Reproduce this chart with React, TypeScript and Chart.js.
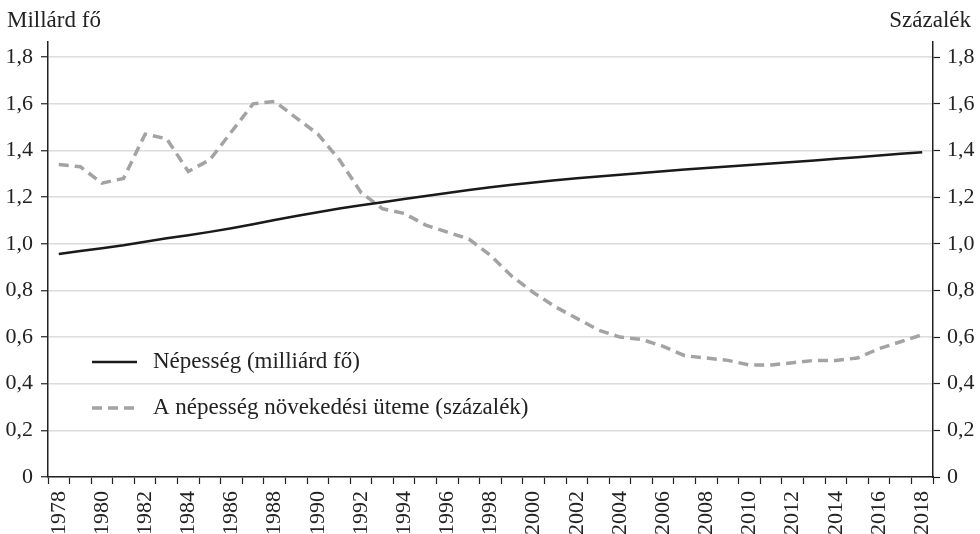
import { useEffect, useRef } from 'react';
import { Chart, registerables } from 'chart.js';

Chart.register(...registerables);

const years = [
  '1978', '1979', '1980', '1981', '1982', '1983', '1984', '1985', '1986', '1987',
  '1988', '1989', '1990', '1991', '1992', '1993', '1994', '1995', '1996', '1997',
  '1998', '1999', '2000', '2001', '2002', '2003', '2004', '2005', '2006', '2007',
  '2008', '2009', '2010', '2011', '2012', '2013', '2014', '2015', '2016', '2017', '2018',
];

const shownYearLabels = [
  '1978', '1980', '1982', '1984', '1986', '1988', '1990', '1992', '1994', '1996', '1998',
  '2000', '2002', '2004', '2006', '2008', '2010', '2012', '2014', '2016', '2018',
];

// Népesség (milliárd fő)
const population = [
  0.9562, 0.969, 0.9812, 0.9939, 1.0087, 1.0233, 1.0368, 1.051, 1.0668, 1.084,
  1.1016, 1.1187, 1.1352, 1.1508, 1.165, 1.1784, 1.1918, 1.2049, 1.2176, 1.2301,
  1.2419, 1.2527, 1.2626, 1.2719, 1.2804, 1.2884, 1.2961, 1.3037, 1.311, 1.3179,
  1.3247, 1.3313, 1.3377, 1.3441, 1.3506, 1.3573, 1.3641, 1.3711, 1.3786, 1.3864, 1.3927,
];

// A népesség növekedési üteme (százalék)
const growthRate = [
  1.34, 1.33, 1.26, 1.28, 1.47, 1.45, 1.31, 1.36, 1.48, 1.6,
  1.61, 1.54, 1.47, 1.36, 1.22, 1.15, 1.13, 1.08, 1.05, 1.02,
  0.95, 0.86, 0.79, 0.73, 0.68, 0.63, 0.6, 0.59, 0.56, 0.52,
  0.51, 0.5, 0.48, 0.48, 0.49, 0.5, 0.5, 0.51, 0.55, 0.58, 0.61,
];

const leftAxisTitle = 'Millárd fő';
const rightAxisTitle = 'Százalék';
const seriesNames = ['Népesség (milliárd fő)', 'A népesség növekedési üteme (százalék)'];

const FONT = "'Liberation Serif', 'DejaVu Serif', serif";
const TEXT = '#222222';

const fmt = (v: number) => (v === 0 ? '0' : v.toFixed(1).replace('.', ','));

const overlayPlugin = {
  id: 'overlay',
  afterDraw(chart: any) {
    const ctx = chart.ctx as CanvasRenderingContext2D;
    ctx.save();
    ctx.font = `23px ${FONT}`;
    ctx.fillStyle = TEXT;
    ctx.textBaseline = 'alphabetic';
    ctx.textAlign = 'left';
    ctx.fillText(leftAxisTitle, 7, 27);
    ctx.textAlign = 'right';
    ctx.fillText(rightAxisTitle, 971, 27);

    // legend
    const area = chart.chartArea;
    const lx = area.left + 44;
    const rows = [362, 408];
    chart.data.datasets.forEach((ds: any, i: number) => {
      const y = rows[i];
      ctx.beginPath();
      ctx.strokeStyle = ds.borderColor;
      ctx.lineWidth = ds.borderWidth;
      ctx.setLineDash(ds.borderDash || []);
      ctx.moveTo(lx, y);
      ctx.lineTo(lx + 45, y);
      ctx.stroke();
      ctx.setLineDash([]);
      ctx.textAlign = 'left';
      ctx.textBaseline = 'middle';
      ctx.fillStyle = TEXT;
      ctx.font = `23px ${FONT}`;
      ctx.fillText(ds.label, lx + 61, y);
    });
    ctx.restore();
  },
};

export default function App() {
  const ref = useRef<HTMLCanvasElement | null>(null);

  useEffect(() => {
    if (!ref.current) return;
    Chart.defaults.font.family = FONT;
    const chart = new Chart(ref.current, {
      type: 'line',
      data: {
        labels: years,
        datasets: [
          {
            label: seriesNames[0],
            data: population,
            yAxisID: 'y',
            borderColor: '#1a1a1a',
            borderWidth: 2.5,
            pointRadius: 0,
            tension: 0,
            fill: false,
          },
          {
            label: seriesNames[1],
            data: growthRate,
            yAxisID: 'y1',
            borderColor: '#a3a3a3',
            borderWidth: 3.5,
            borderDash: [10, 6],
            pointRadius: 0,
            tension: 0,
            fill: false,
          },
        ],
      },
      options: {
        responsive: false,
        animation: false,
        layout: { padding: { top: 42, left: 0, right: 0, bottom: 0 } },
        plugins: {
          legend: { display: false },
          tooltip: { enabled: false },
          title: { display: false },
        },
        scales: {
          x: {
            type: 'category',
            offset: true,
            afterFit: (s: any) => {
              s.height = 57;
            },
            grid: {
              display: true,
              drawOnChartArea: false,
              drawTicks: true,
              tickLength: 7,
              tickColor: '#222',
              tickWidth: 1.2,
              offset: true,
            },
            border: { display: true, color: '#222', width: 1.5 },
            ticks: {
              autoSkip: false,
              maxRotation: 90,
              minRotation: 90,
              padding: 7,
              color: TEXT,
              font: { size: 22, family: FONT },
              callback: function (this: any, _v: any, i: number) {
                const lab = years[i];
                return shownYearLabels.includes(lab) ? lab : '';
              },
            },
          },
          y: {
            type: 'linear',
            position: 'left',
            min: 0,
            max: 1.865,
            afterFit: (s: any) => {
              s.width = 48;
            },
            grid: {
              color: '#dcdcdc',
              lineWidth: 1.5,
              drawTicks: true,
              tickLength: 7,
              tickColor: '#222',
              tickWidth: 1.2,
            },
            border: { display: true, color: '#222', width: 1.5 },
            ticks: {
              stepSize: 0.2,
              includeBounds: false,
              padding: 8,
              color: TEXT,
              font: { size: 22, family: FONT },
              callback: (v: any) => fmt(Number(v)),
            },
          },
          y1: {
            type: 'linear',
            position: 'right',
            min: 0,
            max: 1.865,
            afterFit: (s: any) => {
              s.width = 47;
            },
            grid: {
              drawOnChartArea: false,
              drawTicks: true,
              tickLength: 7,
              tickColor: '#222',
              tickWidth: 1.2,
            },
            border: { display: true, color: '#222', width: 1.5 },
            ticks: {
              stepSize: 0.2,
              includeBounds: false,
              padding: 7,
              color: TEXT,
              font: { size: 22, family: FONT },
              callback: (v: any) => fmt(Number(v)),
            },
          },
        },
      },
      plugins: [overlayPlugin],
    } as any);
    return () => chart.destroy();
  }, []);

  return (
    <div style={{ position: 'fixed', left: 0, top: 0, width: 980, height: 534, background: '#fff' }}>
      <canvas ref={ref} width={980} height={534} style={{ display: 'block' }} />
    </div>
  );
}
